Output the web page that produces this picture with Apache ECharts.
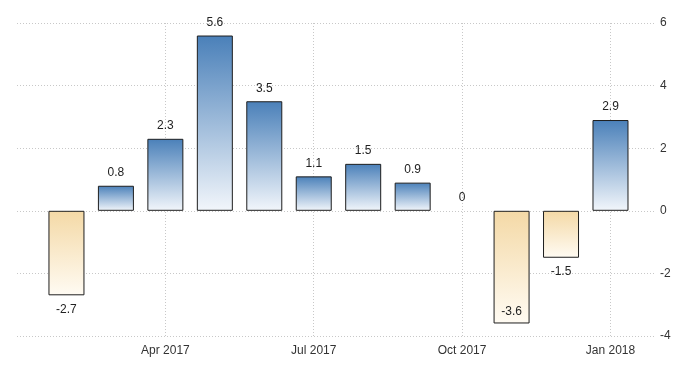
<!DOCTYPE html>
<html><head><meta charset="utf-8">
<script src="https://cdn.jsdelivr.net/npm/echarts@6/dist/echarts.min.js"></script>
<style>html,body{margin:0;padding:0;background:#fff}#c{width:700px;height:375px}</style>
</head><body><div id="c"></div>
<script>
const categories = ['Feb 2017','Mar 2017','Apr 2017','May 2017','Jun 2017','Jul 2017','Aug 2017','Sep 2017','Oct 2017','Nov 2017','Dec 2017','Jan 2018'];
const values = [-2.7, 0.8, 2.3, 5.6, 3.5, 1.1, 1.5, 0.9, 0, -3.6, -1.5, 2.9];
const xTickLabels = {2:'Apr 2017', 5:'Jul 2017', 8:'Oct 2017', 11:'Jan 2018'};
const yTicks = [-4, -2, 0, 2, 4, 6];

const FONT = '"Liberation Sans",Arial,sans-serif';
const blue = new echarts.graphic.LinearGradient(0,0,0,1,[{offset:0,color:'#4a80b9'},{offset:1,color:'#f2f6fb'}]);
const tan = new echarts.graphic.LinearGradient(0,0,0,1,[{offset:0,color:'#f4d9a6'},{offset:1,color:'#fffbf3'}]);

const data = values.map((v,i)=>{
  const d = {value:[i,v], itemStyle:{color: v<0?tan:blue}};
  if (v===0) d.itemStyle.borderWidth = 0;
  if (v<0) d.label = {position: v <= -3.5 ? 'insideBottom' : 'bottom', distance: v <= -3.5 ? 6 : 8};
  return d;
});

const chart = echarts.init(document.getElementById('c'));
chart.setOption({
  animation:false,
  grid:{left:17, right:45, top:23, bottom:39},
  xAxis:{type:'value', min:-1, max:11.9, interval:3,
    axisLine:{show:false}, axisTick:{show:false},
    splitLine:{show:true, showMinLine:false, showMaxLine:false, lineStyle:{color:'#c8c8c8', type:[1,2], width:1}},
    axisLabel:{color:'#333', fontFamily:FONT, fontSize:12, margin:9, showMinLabel:false, showMaxLabel:false,
      formatter:v=>xTickLabels[v]||''}},
  yAxis:{type:'value', position:'right', min:yTicks[0], max:yTicks[yTicks.length-1], interval:2,
    axisLine:{show:false}, axisTick:{show:false},
    splitLine:{show:true, lineStyle:{color:'#c8c8c8', type:[1,2], width:1}},
    axisLabel:{color:'#333', fontFamily:FONT, fontSize:12, margin:5, align:'left'}},
  series:[{type:'bar', data:data, barWidth:36,
    itemStyle:{borderColor:'#1e1e1e', borderWidth:1},
    label:{show:true, position:'top', distance:7, color:'#222', fontFamily:FONT, fontSize:12,
      formatter:p=>String(p.value[1])}}]
});
</script></body></html>
